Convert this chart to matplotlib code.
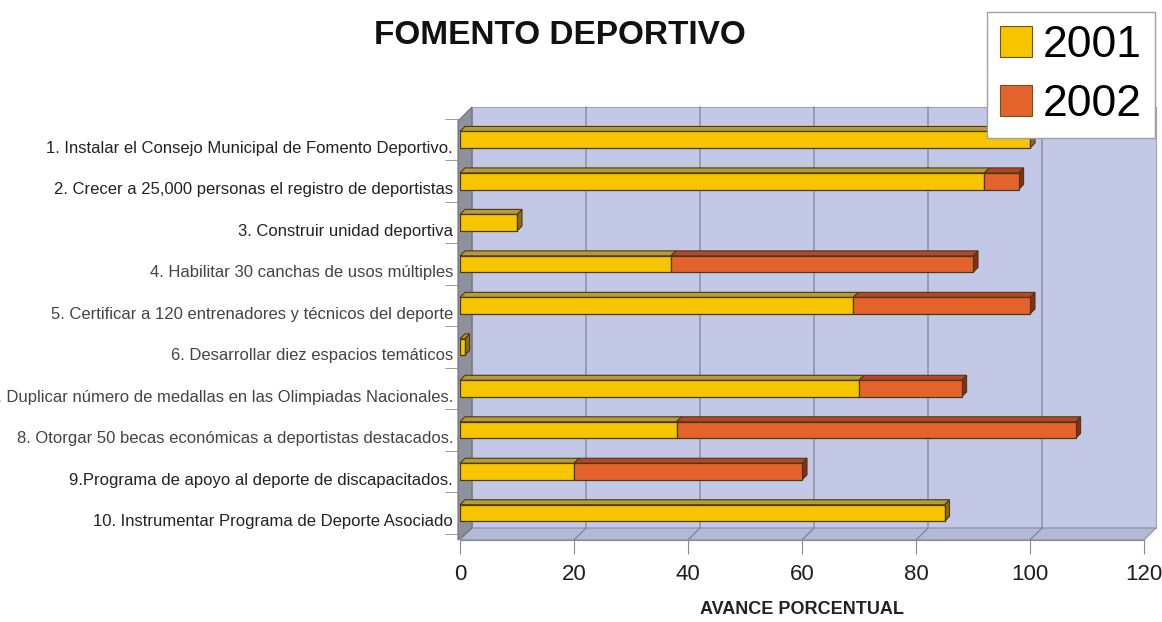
import numpy as np
import matplotlib.pyplot as plt
from matplotlib.patches import Polygon, Patch
from matplotlib.transforms import IdentityTransform, ScaledTranslation

plt.rcParams['font.family'] = ['Liberation Sans', 'DejaVu Sans']

# data
categories = [
    '1. Instalar el Consejo Municipal de Fomento Deportivo.',
    '2. Crecer a 25,000 personas el registro de deportistas',
    '3. Construir unidad deportiva',
    '4. Habilitar 30 canchas de usos múltiples',
    '5. Certificar a 120 entrenadores y técnicos del deporte',
    '6. Desarrollar diez espacios temáticos',
    '7. Duplicar número de medallas en las Olimpiadas Nacionales.',
    '8. Otorgar 50 becas económicas a deportistas destacados.',
    '9.Programa de apoyo al deporte de discapacitados.',
    '10. Instrumentar Programa de Deporte Asociado',
]
v2001 = [100, 92, 10, 37, 69, 0.8, 70, 38, 20, 85]
v2002 = [0, 6, 0, 53, 31, 0, 18, 70, 40, 0]
years = ['2001', '2002']
xticks = [0, 20, 40, 60, 80, 100, 120]

face = ['#F6C500', '#E4622C']
top = ['#B99A38', '#B4472A']
side = ['#8E6E10', '#8A2C16']
edge = '#4A3A12'
depth = 12      # wall depth in pixels
bdepth = 5      # bar depth in pixels
bar_h = 0.40

fig = plt.figure(figsize=(11.62, 6.22), dpi=100)
ax = fig.add_axes([460 / 1162, 1 - 540 / 622, 684 / 1162, 421 / 622])
ax.set_xlim(0, 120)
ax.set_ylim(9.65, -0.5)
ax.patch.set_visible(False)
for s in ['top', 'right', 'left']:
    ax.spines[s].set_visible(False)
ax.spines['bottom'].set_color('#8A8A8A')

ident = IdentityTransform()
(L, B), (R, T) = ax.transAxes.transform([(0, 0), (1, 1)])

# walls
ax.add_patch(Polygon([(L + depth, B + depth), (R + depth, B + depth), (R + depth, T + depth), (L + depth, T + depth)],
                     closed=True, facecolor='#C3C8E6', edgecolor='#A0A4B8', lw=0.8,
                     transform=ident, clip_on=False, zorder=0))
ax.add_patch(Polygon([(L, B), (R, B), (R + depth, B + depth), (L + depth, B + depth)],
                     closed=True, facecolor='#B4B9D6', edgecolor='#8A8EA0', lw=0.8,
                     transform=ident, clip_on=False, zorder=0.5))
ax.add_patch(Polygon([(L - 2, B), (L - 2, T - 2), (L + depth, T + depth), (L + depth, B + depth)],
                     closed=True, facecolor='#8E919B', edgecolor='#6E7078', lw=0.8,
                     transform=ident, clip_on=False, zorder=0.5))

# grid lines on the floor and back wall
for v in xticks[1:-1]:
    X = ax.transData.transform((v, 0))[0]
    ax.plot([X, X + depth, X + depth], [B, B + depth, T + depth], color='#7E8398', lw=0.9,
            transform=ident, clip_on=False, zorder=1)

# bars with 3D faces
y = np.arange(len(categories))
lefts = [np.zeros(len(v2001)), np.array(v2001)]
widths = [np.array(v2001), np.array(v2002)]
for k in range(2):
    for i in range(len(categories)):
        w = widths[k][i]
        if w <= 0:
            continue
        x0, x1 = lefts[k][i], lefts[k][i] + w
        (X0, Yt), (X1, Yb) = ax.transData.transform([(x0, i - bar_h / 2), (x1, i + bar_h / 2)])
        ax.add_patch(Polygon([(X1, Yb), (X1, Yt), (X1 + bdepth, Yt + bdepth), (X1 + bdepth, Yb + bdepth)],
                             closed=True, facecolor=side[k], edgecolor=edge, lw=0.8,
                             transform=ident, clip_on=False, zorder=2))
        ax.add_patch(Polygon([(X0, Yt), (X1, Yt), (X1 + bdepth, Yt + bdepth), (X0 + bdepth, Yt + bdepth)],
                             closed=True, facecolor=top[k], edgecolor=edge, lw=0.8,
                             transform=ident, clip_on=False, zorder=2))
    ax.barh(y, widths[k], left=lefts[k], height=bar_h, color=face[k], edgecolor=edge,
            linewidth=0.9, zorder=3, label=years[k])

# axes, ticks and labels
ax.set_xticks(xticks)
ax.tick_params(axis='x', length=10, color='#8A8A8A', labelsize=16, labelcolor='#1E1E1E', pad=7)
ax.set_yticks(y)
ax.set_yticklabels(categories)
ax.set_yticks(np.arange(-0.5, 10, 1), minor=True)
ax.tick_params(axis='y', which='major', length=0, labelsize=12, labelcolor='#222222', pad=5)
ax.tick_params(axis='y', which='minor', length=11, color='#8A8A8A')
off = ScaledTranslation(0, -0.07, fig.dpi_scale_trans)
for i, lab in enumerate(ax.get_yticklabels()):
    lab.set_transform(lab.get_transform() + off)
    if i in (3, 4, 5, 6, 7):
        lab.set_color('#444444')

ax.set_xlabel('AVANCE PORCENTUAL', fontsize=13, fontweight='bold', color='#222222', labelpad=12)
fig.text(0.482, 1 - 36 / 622, 'FOMENTO DEPORTIVO', fontsize=24, fontweight='bold', ha='center', va='center',
         color='#111111')

handles = [Patch(facecolor=face[k], edgecolor='#6A5520', lw=0.8) for k in range(2)]
fig.legend(handles, years, loc='upper right', bbox_to_anchor=(1155 / 1162, 1 - 12 / 622), fontsize=32,
           frameon=True, fancybox=False, edgecolor='#A0A0A0', framealpha=1, handlelength=0.7,
           handleheight=0.7, handletextpad=0.25, borderpad=0.3, labelspacing=0.4, borderaxespad=0)

fig.savefig('out.png', dpi=100)
